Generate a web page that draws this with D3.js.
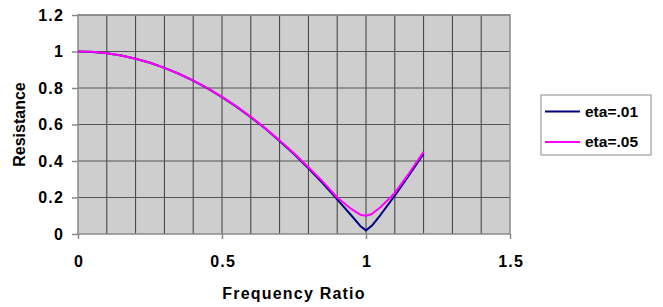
<!DOCTYPE html>
<html>
<head>
<meta charset="utf-8">
<script src="https://cdn.jsdelivr.net/npm/d3@7"></script>
<style>
  body { margin: 0; background: #fff; }
  text { font-family: 'Liberation Sans', Arial, sans-serif; font-weight: bold; fill: #000; }
</style>
</head>
<body>
<svg></svg>
<script>
// data
const ratio = [0, 0.05, 0.1, 0.15, 0.2, 0.25, 0.3, 0.35, 0.4, 0.45, 0.5, 0.55, 0.6, 0.65, 0.7, 0.75, 0.8, 0.85, 0.9, 0.95, 0.98, 1.0, 1.02, 1.05, 1.1, 1.15, 1.2]
const eta01 = [1.0, 0.997, 0.99, 0.978, 0.96, 0.938, 0.91, 0.878, 0.84, 0.798, 0.75, 0.698, 0.64, 0.578, 0.51, 0.438, 0.36, 0.278, 0.19, 0.10, 0.044, 0.02, 0.045, 0.104, 0.21, 0.323, 0.44]
const eta05 = [1.0, 0.998, 0.99, 0.978, 0.96, 0.938, 0.91, 0.878, 0.84, 0.799, 0.751, 0.70, 0.642, 0.58, 0.513, 0.442, 0.366, 0.287, 0.20, 0.136, 0.106, 0.10, 0.11, 0.147, 0.225, 0.334, 0.45]
const seriesNames = ['eta=.01', 'eta=.05']
const seriesColors = ['#000080', '#ff00ff']
const xTicks = [0, 0.5, 1, 1.5]
const yTicks = [0, 0.2, 0.4, 0.6, 0.8, 1, 1.2]

const w = 663
const h = 307
const plotLeft = 78
const plotRight = 510
const plotTop = 15
const plotBottom = 234

const svg = d3.select('svg')
  .attr('width', w)
  .attr('height', h)

const xScale = d3.scaleLinear().domain([0, 1.5]).range([plotLeft, plotRight])
const yScale = d3.scaleLinear().domain([0, 1.2]).range([plotBottom, plotTop])

// plot background
svg.append('rect')
  .attr('x', plotLeft)
  .attr('y', plotTop)
  .attr('width', plotRight - plotLeft)
  .attr('height', plotBottom - plotTop)
  .attr('fill', '#cecece')

// vertical grid every 0.1
svg.append('g')
  .selectAll('line')
  .data(d3.range(1, 15).map(i => i / 10))
  .enter()
  .append('line')
  .attr('x1', d => xScale(d))
  .attr('x2', d => xScale(d))
  .attr('y1', plotTop)
  .attr('y2', plotBottom)
  .attr('stroke', '#3c3c3c')
  .attr('stroke-width', 1)

// horizontal grid
svg.append('g')
  .selectAll('line')
  .data(yTicks.slice(1))
  .enter()
  .append('line')
  .attr('x1', plotLeft)
  .attr('x2', plotRight)
  .attr('y1', d => yScale(d))
  .attr('y2', d => yScale(d))
  .attr('stroke', '#555')
  .attr('stroke-width', 1)

// plot border
svg.append('rect')
  .attr('x', plotLeft)
  .attr('y', plotTop)
  .attr('width', plotRight - plotLeft)
  .attr('height', plotBottom - plotTop)
  .attr('fill', 'none')
  .attr('stroke', '#8a8a8a')
  .attr('stroke-width', 1.5)

// axes
const xAxis = d3.axisBottom(xScale)
  .tickValues(xTicks)
  .tickFormat(d3.format('~g'))
  .tickSize(5)
  .tickPadding(17)

const yAxis = d3.axisLeft(yScale)
  .tickValues(yTicks)
  .tickFormat(d3.format('~g'))
  .tickSize(6)
  .tickPadding(8)

const gx = svg.append('g')
  .attr('transform', `translate(0, ${plotBottom})`)
  .call(xAxis)
const gy = svg.append('g')
  .attr('transform', `translate(${plotLeft}, 0)`)
  .call(yAxis)

for (const g of [gx, gy]) {
  g.select('.domain').remove()
  g.selectAll('line').attr('stroke', '#8a8a8a').attr('stroke-width', 1.5)
  g.selectAll('text')
    .style('font-family', "'Liberation Sans', Arial, sans-serif")
    .style('font-weight', 'bold')
    .style('font-size', '16px')
    .style('letter-spacing', '1.2px')
    .attr('fill', '#000')
}
gx.selectAll('text').attr('dx', '0.6px')

// axis titles
svg.append('text')
  .attr('text-anchor', 'middle')
  .attr('x', (plotLeft + plotRight) / 2)
  .attr('y', 299)
  .style('font-size', '16px')
  .style('letter-spacing', '1.2px')
  .text('Frequency Ratio')

svg.append('text')
  .attr('text-anchor', 'middle')
  .attr('transform', `translate(25, ${(plotTop + plotBottom) / 2})rotate(-90)`)
  .style('font-size', '16px')
  .text('Resistance')

// lines
const series = [eta01, eta05]
const line = d3.line()
  .x((d, i) => xScale(ratio[i]))
  .y(d => yScale(d))

svg.selectAll('.series')
  .data(series)
  .enter()
  .append('path')
  .attr('class', 'series')
  .attr('d', d => line(d))
  .attr('fill', 'none')
  .attr('stroke', (d, i) => seriesColors[i])
  .attr('stroke-width', 2)
  .attr('stroke-linejoin', 'round')

// legend
const legend = svg.append('g')
  .attr('transform', 'translate(541, 95)')

legend.append('rect')
  .attr('width', 110)
  .attr('height', 60)
  .attr('fill', '#fff')
  .attr('stroke', '#8a8a8a')
  .attr('stroke-width', 1)

const item = legend.selectAll('.item')
  .data(seriesNames)
  .enter()
  .append('g')
  .attr('class', 'item')
  .attr('transform', (d, i) => `translate(0, ${16.5 + i * 30.5})`)

item.append('line')
  .attr('x1', 4)
  .attr('x2', 39)
  .attr('stroke', (d, i) => seriesColors[i])
  .attr('stroke-width', 2)

item.append('text')
  .attr('x', 44)
  .attr('y', 5)
  .style('font-size', '15.5px')
  .text(d => d)
</script>
</body>
</html>
